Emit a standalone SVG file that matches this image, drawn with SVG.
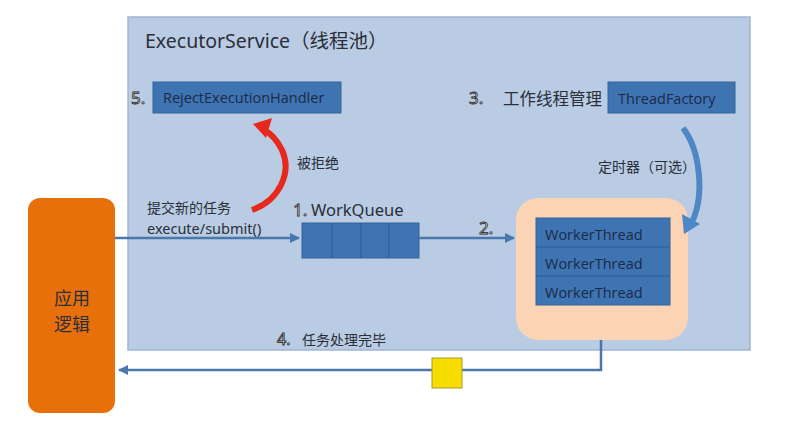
<svg xmlns="http://www.w3.org/2000/svg" width="807" height="440" viewBox="0 0 807 440">
<style>
.t{font-family:"Noto Sans","Noto Sans CJK SC",sans-serif;fill:#2a2f3a}
.n{font-family:"Noto Sans","Noto Sans CJK SC",sans-serif;fill:#fff;stroke:#222;stroke-width:0.8}
.box{fill:#3e74b2;stroke:#35649c;stroke-width:1}
.lbl{font-family:"Open Sans","Noto Sans",sans-serif;font-size:14.5px;fill:#1c2a48}
.ln{stroke:#4a78ad;stroke-width:2.5;fill:none}
</style>
<defs>
<marker id="ah" viewBox="0 0 10 10" refX="9" refY="5" markerWidth="4" markerHeight="4" orient="auto"><path d="M0,0L10,5L0,10z" fill="#4a78ad"/></marker>
</defs>
<rect width="807" height="440" fill="#fff"/>
<g id="executor">
<rect x="128" y="17" width="622" height="333" fill="#b9cce3" stroke="#9fb5d3" stroke-width="1.5"/>
<text class="t" x="145" y="48" font-size="19.5">ExecutorService（线程池）</text>
</g>
<g id="reject">
<text class="n" x="131" y="104" font-size="17">5.</text>
<rect class="box" x="153" y="82" width="188" height="31"/>
<text class="lbl" x="163" y="103">RejectExecutionHandler</text>
</g>
<g id="factory">
<text class="n" x="469" y="104" font-size="17">3.</text>
<text class="t" x="503" y="105" font-size="16.5">工作线程管理</text>
<rect class="box" x="608" y="82" width="127" height="31"/>
<text class="lbl" x="618" y="104">ThreadFactory</text>
</g>
<g id="app">
<rect x="28" y="198" width="87" height="215" rx="12" fill="#e8700b"/>
<text class="t" x="72" y="305" font-size="18" text-anchor="middle">应用</text>
<text class="t" x="72" y="331" font-size="18" text-anchor="middle">逻辑</text>
</g>
<g id="workqueue">
<text class="n" x="293" y="216" font-size="17">1.</text>
<text class="t" x="311" y="216" font-size="16.5">WorkQueue</text>
<rect class="box" x="302" y="223" width="117" height="35"/>
<path d="M332,223V258M361,223V258M389,223V258" stroke="#2d5b92" stroke-width="1"/>
</g>
<g id="pool">
<text class="n" x="479" y="234" font-size="17">2.</text>
<rect x="516" y="198" width="172" height="142" rx="22" fill="#fbd3b5"/>
<rect class="box" x="536" y="218" width="134" height="87"/>
<path d="M536,247H670M536,276H670" stroke="#2d5b92" stroke-width="1"/>
<text class="lbl" x="545" y="240">WorkerThread</text>
<text class="lbl" x="545" y="269">WorkerThread</text>
<text class="lbl" x="545" y="298">WorkerThread</text>
</g>
<g id="labels">
<text class="t" x="147" y="213" font-size="14">提交新的任务</text>
<text class="t" x="147" y="234" font-size="14.5">execute/submit()</text>
<text class="t" x="297" y="168" font-size="14">被拒绝</text>
<text class="t" x="598" y="172" font-size="14">定时器（可选）</text>
<text class="n" x="277" y="345" font-size="16">4.</text>
<text class="t" x="302" y="345" font-size="14">任务处理完毕</text>
</g>
<g id="connectors">
<path class="ln" d="M115,238H299" marker-end="url(#ah)"/>
<path class="ln" d="M419,238H514" marker-end="url(#ah)"/>
<path class="ln" d="M601,340V370H119" marker-end="url(#ah)"/>
<rect x="432" y="358" width="30" height="30" fill="#f7dc00" stroke="#a89a30" stroke-width="1"/>
<path d="M252,210C280,200 292,172 282,150C276,138 270,133 264,130" fill="none" stroke="#e8281c" stroke-width="6"/>
<path d="M253,124L272,118L266,138z" fill="#e8281c"/>
<path d="M683,128C700,150 705,195 692,222" fill="none" stroke="#4f86c6" stroke-width="6"/>
<path d="M684,234L682,214L700,224z" fill="#4f86c6"/>
</g>
</svg>
